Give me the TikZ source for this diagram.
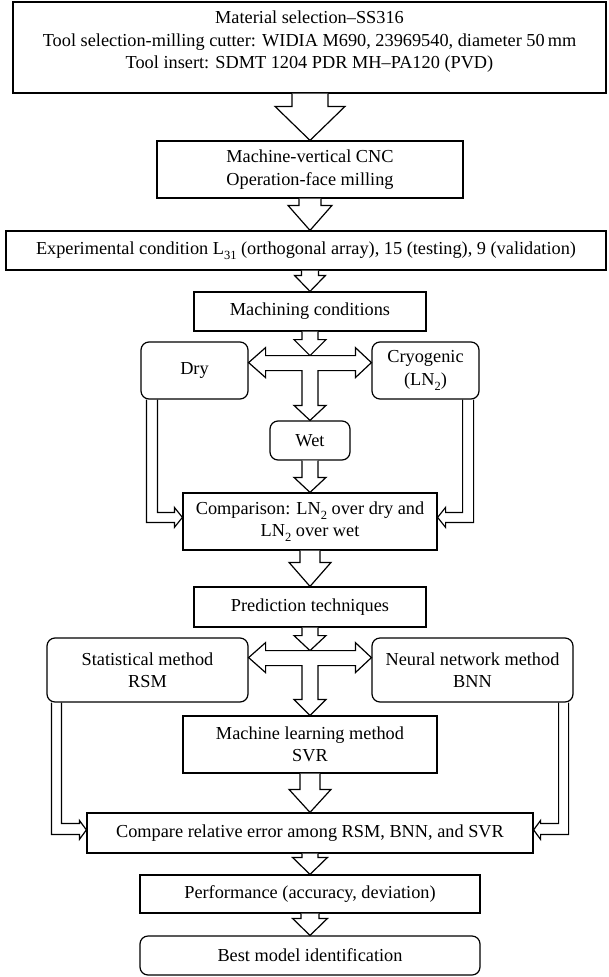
\documentclass[tikz,border=0pt]{standalone}
\usepackage{fontspec}
\setmainfont{Liberation Serif}
\usetikzlibrary{calc}
\newcommand{\lowsub}[1]{\raisebox{-0.28em}{\fontsize{12.5}{12.5}\selectfont #1}}
\newcommand{\downarr}[5]{%
  \draw[hollow] let \p1=(#1), \p2=(#2), \p3=(axis) in
    (\x3-#3,\y1) -- (\x3-#3,\y2+#5) -- (\x3-#4,\y2+#5) -- (\x3,\y2)
    -- (\x3+#4,\y2+#5) -- (\x3+#3,\y2+#5) -- (\x3+#3,\y1);}
\tikzset{
  box/.style={draw, line width=1.2pt, inner sep=0pt, align=center, fill=white,
              font=\fontsize{18.3}{22.5}\selectfont},
  rbox/.style={box, rounded corners=8pt},
  hollow/.style={draw, line width=1.2pt, fill=white, line join=miter},
  dbl/.style={draw, line width=1.2pt, line join=miter},
  txt/.style={inner sep=0pt, align=center, font=\fontsize{18.3}{22.5}\selectfont}
}
\begin{document}
\begin{tikzpicture}[x=1pt,y=-1pt]
\useasboundingbox (0,0) rectangle (608,977);
\coordinate (axis) at (310,0);

% boxes
\node[box, minimum width=593pt, minimum height=91pt] (b1) at (309.5,47.5) {};
\node[txt] (b1t) at (309.5,42) {Material selection--SS316\\Tool selection-milling cutter: WIDIA M690, 23969540, diameter 50\,mm\\Tool insert: SDMT 1204 PDR MH--PA120 (PVD)};
\node[box, minimum width=306pt, minimum height=57pt] (b2) at (310,169.5) {Machine-vertical CNC\\Operation-face milling};
\node[box, minimum width=600pt, minimum height=39pt] (b3) at (306,250.5) {Experimental condition L\lowsub{31} (orthogonal array), 15 (testing), 9 (validation)};
\node[box, minimum width=232pt, minimum height=39pt] (mc) at (310,311.5) {Machining conditions};
\node[rbox, minimum width=107pt, minimum height=57pt] (dry) at (194.5,370.5) {Dry};
\node[rbox, minimum width=107pt, minimum height=57pt] (cryo) at (425.5,370.5) {Cryogenic\\(LN\lowsub{2})};
\node[rbox, minimum width=80pt, minimum height=39pt] (wet) at (310,440.5) {Wet};
\node[box, minimum width=254pt, minimum height=57pt] (comp) at (310,521.5) {Comparison: LN\lowsub{2} over dry and\\LN\lowsub{2} over wet};
\node[box, minimum width=232pt, minimum height=40pt] (pred) at (310,607) {Prediction techniques};
\node[rbox, minimum width=201pt, minimum height=64pt] (stat) at (147.5,670) {Statistical method\\RSM};
\node[rbox, minimum width=201pt, minimum height=64pt] (neur) at (472.5,670) {Neural network method\\BNN};
\node[box, minimum width=254pt, minimum height=57pt] (ml) at (310,744.5) {Machine learning method\\SVR};
\node[box, minimum width=446pt, minimum height=40pt] (cre) at (310,833) {Compare relative error among RSM, BNN, and SVR};
\node[box, minimum width=340pt, minimum height=38pt] (perf) at (310,894) {Performance (accuracy, deviation)};
\node[rbox, minimum width=340pt, minimum height=39pt] (best) at (310,955.5) {Best model identification};

% junction points
\coordinate (t1) at ($(mc.south)+(0,24)$);
\coordinate (t2) at ($(pred.south)+(0,23)$);

% straight hollow arrows
\downarr{b1.south}{b2.north}{18}{35}{34}
\downarr{b2.south}{b3.north}{11}{22}{25}
\downarr{b3.south}{mc.north}{8.5}{15.5}{16}
\downarr{mc.south}{t1}{8}{16}{16}
\downarr{wet.south}{comp.north}{8}{16}{15}
\downarr{comp.south}{pred.north}{10}{21}{24}
\downarr{pred.south}{t2}{8}{16}{15}
\downarr{ml.south}{cre.north}{10}{21}{23}
\downarr{cre.south}{perf.north}{8}{17.5}{17}
\downarr{perf.south}{best.north}{9}{17.5}{17}

% T junction 1
\draw[hollow] let \p1=(dry.east), \p2=(cryo.west), \p3=(t1), \p4=(wet.north) in
  (\x1+17,\y3) -- (\x2-16,\y3) -- (\x2-16,\y3+8) -- (\x2,\y3-7) -- (\x2-16,\y3-22)
  -- (\x2-16,\y3-15) -- (\x3+8,\y3-15) -- (\x3+8,\y4+15) -- (\x3+16,\y4+15)
  -- (\x3,\y4) -- (\x3-16,\y4+15) -- (\x3-8,\y4+15) -- (\x3-8,\y3-15)
  -- (\x1+17,\y3-15) -- (\x1+17,\y3-22) -- (\x1,\y3-7) -- (\x1+17,\y3+8) -- cycle;

% T junction 2
\draw[hollow] let \p1=(stat.east), \p2=(neur.west), \p3=(t2), \p4=(ml.north) in
  (\x1+17,\y3) -- (\x2-16,\y3) -- (\x2-16,\y3+8) -- (\x2,\y3-7) -- (\x2-16,\y3-22)
  -- (\x2-16,\y3-15) -- (\x3+8,\y3-15) -- (\x3+8,\y4+16) -- (\x3+16,\y4+16)
  -- (\x3,\y4) -- (\x3-16,\y4+16) -- (\x3-8,\y4+16) -- (\x3-8,\y3-15)
  -- (\x1+17,\y3-15) -- (\x1+17,\y3-22) -- (\x1,\y3-7) -- (\x1+17,\y3+8) -- cycle;

% double-line connectors
\draw[dbl] let \p1=(dry.south west), \p2=(comp.north west) in
  (\x1+6,\y1) -- (\x1+6,\y2-30) -- (\x2-8,\y2-30) -- (\x2-8,\y2-35) -- (\x2,\y2-25)
  -- (\x2-8,\y2-15) -- (\x2-8,\y2-20) -- (\x1+17,\y2-20) -- (\x1+17,\y1);
\draw[dbl] let \p1=(cryo.south east), \p2=(comp.north east) in
  (\x1-6,\y1) -- (\x1-6,\y2-30) -- (\x2+8,\y2-30) -- (\x2+8,\y2-35) -- (\x2,\y2-25)
  -- (\x2+8,\y2-15) -- (\x2+8,\y2-20) -- (\x1-17,\y2-20) -- (\x1-17,\y1);
\draw[dbl] let \p1=(stat.south west), \p2=(cre.north west) in
  (\x1+5,\y1) -- (\x1+5,\y2-22) -- (\x2-7,\y2-22) -- (\x2-7,\y2-27) -- (\x2,\y2-17.5)
  -- (\x2-7,\y2-8) -- (\x2-7,\y2-11) -- (\x1+15,\y2-11) -- (\x1+15,\y1);
\draw[dbl] let \p1=(neur.south east), \p2=(cre.north east) in
  (\x1-5,\y1) -- (\x1-5,\y2-22) -- (\x2+7,\y2-22) -- (\x2+7,\y2-27) -- (\x2,\y2-17.5)
  -- (\x2+7,\y2-8) -- (\x2+7,\y2-11) -- (\x1-15,\y2-11) -- (\x1-15,\y1);
\end{tikzpicture}
\end{document}
